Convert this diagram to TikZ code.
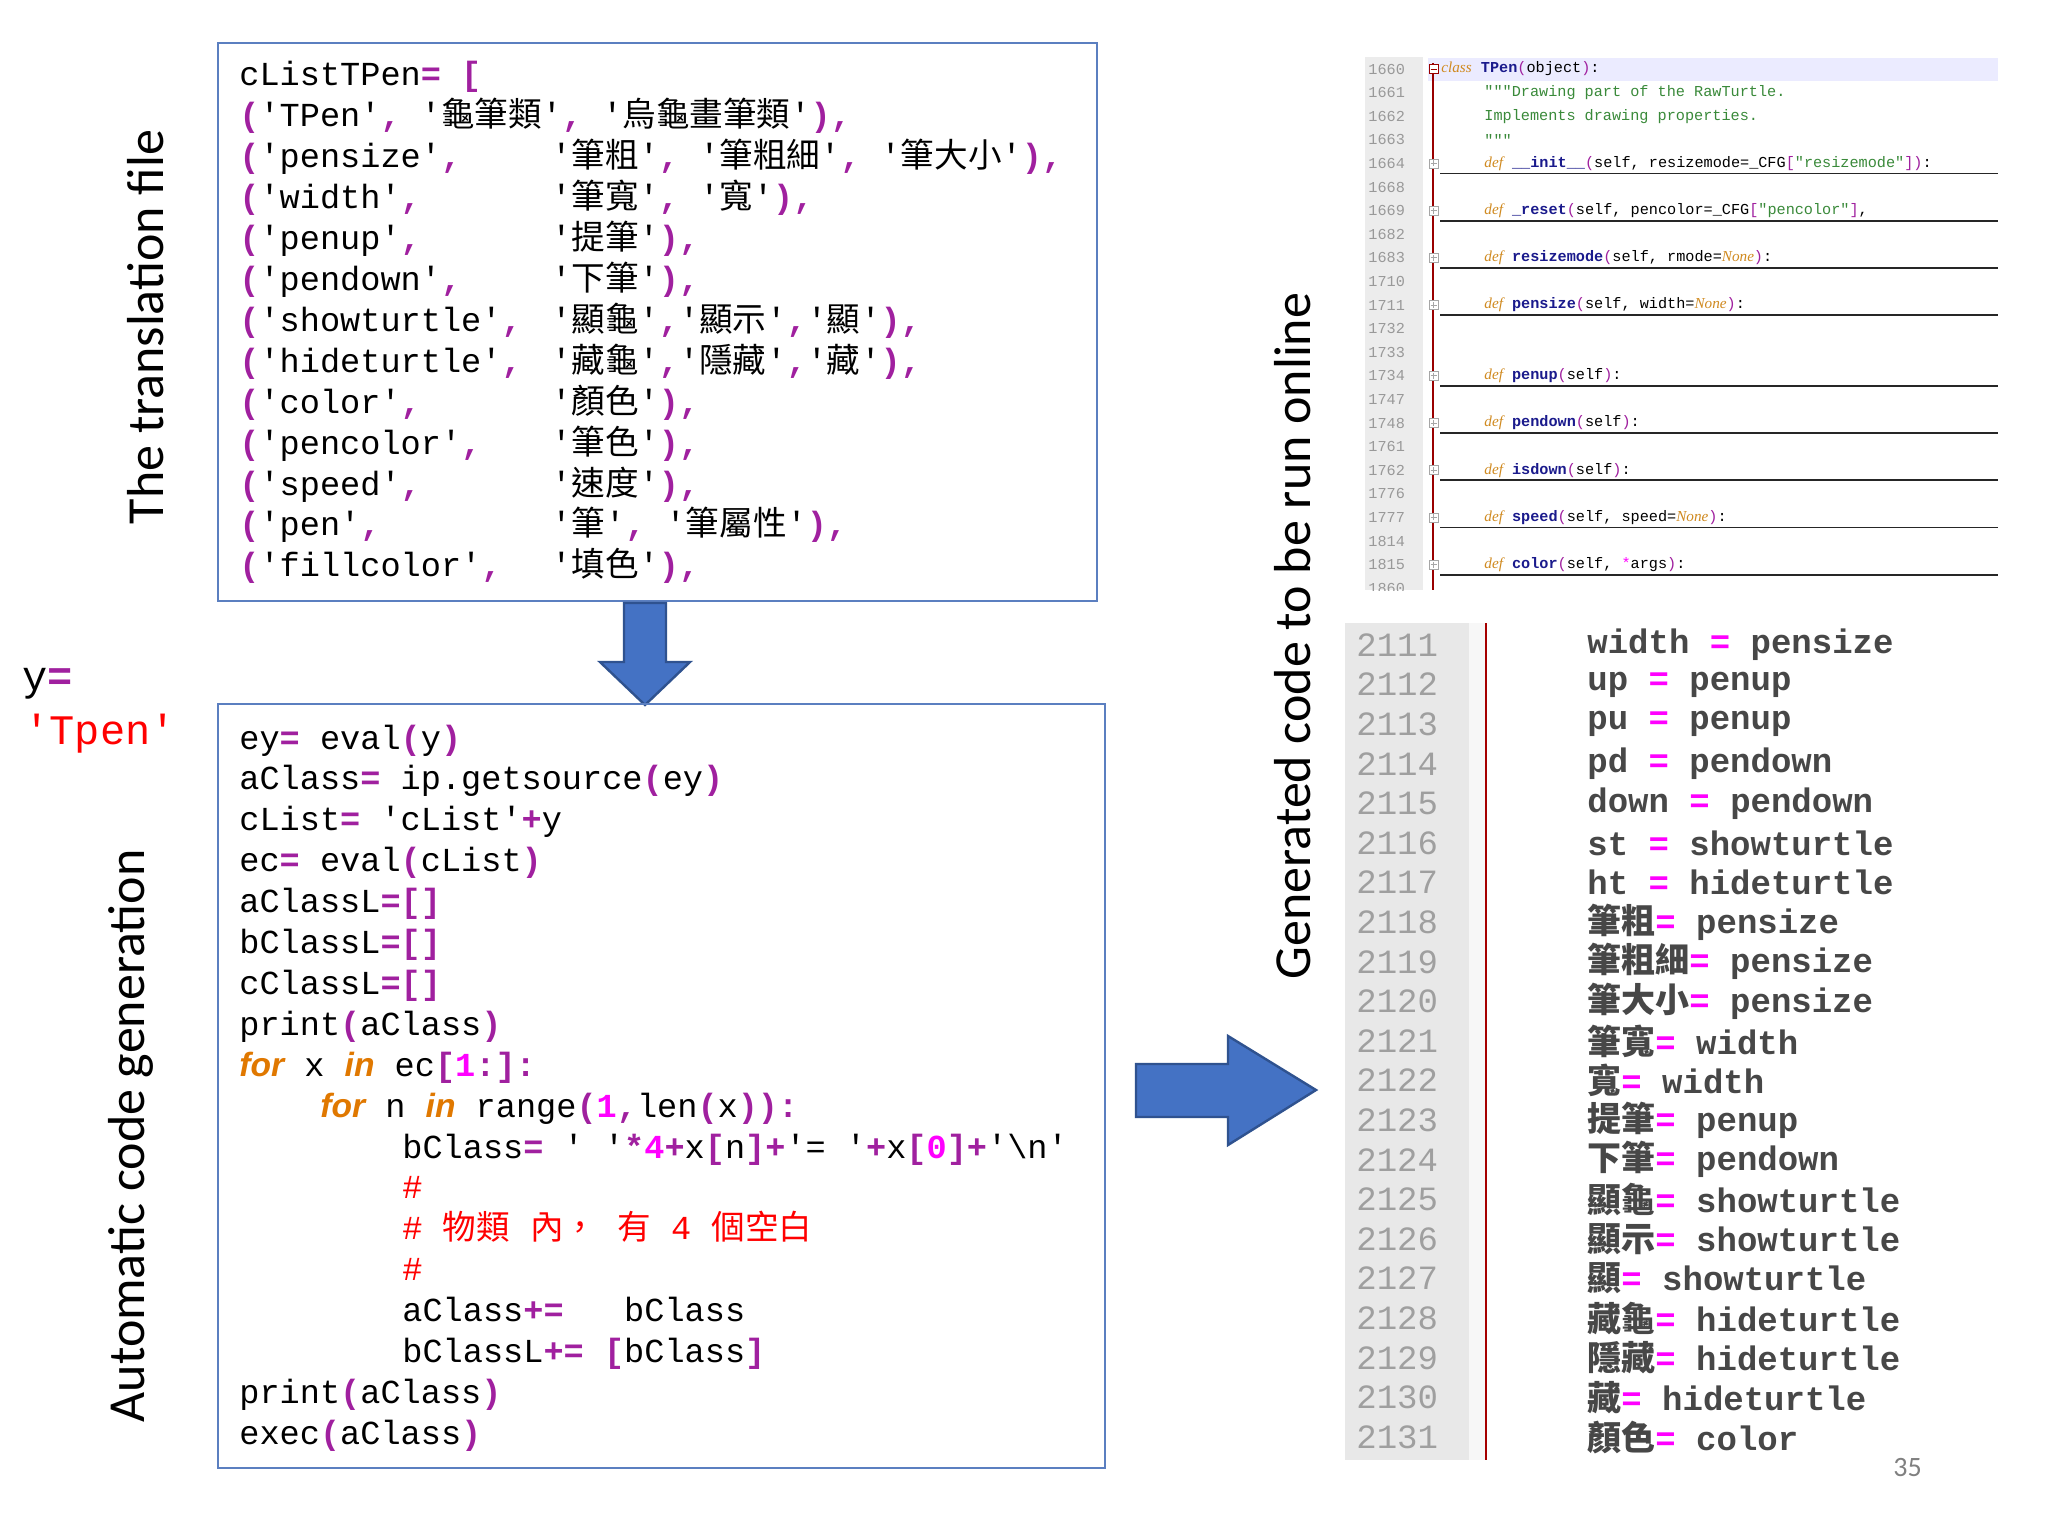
\documentclass[tikz,border=0pt]{standalone}
\usepackage{fontspec}
\setmainfont{Liberation Serif}
\newfontfamily\mono{Liberation Mono}
\newfontfamily\cjk{Noto Sans CJK TC}
\newfontfamily\kwf{Liberation Sans}
\newfontfamily\lab{Carlito}
\definecolor{pur}{HTML}{A0209F}
\definecolor{mag}{HTML}{FF00FF}
\definecolor{kwo}{HTML}{E07800}
\definecolor{bfill}{HTML}{4472C4}
\definecolor{bdraw}{HTML}{2F528F}
\definecolor{boxc}{HTML}{5B7FC0}
\definecolor{ido}{HTML}{D08A20}
\definecolor{inavy}{HTML}{1A1A8C}
\definecolor{igreen}{HTML}{3A8A3A}
\newcommand\pb[1]{\textcolor{pur}{\bfseries #1}}
\newcommand\nm[1]{\textcolor{mag}{\bfseries #1}}
\newcommand\ck[1]{{\cjk #1}}
\newcommand\kw[1]{\textcolor{kwo}{\kwf\bfseries\itshape #1}}
\newcommand\eqm{\textcolor{mag}{=}}
\newcommand\idef{\textcolor{ido}{\rmfamily\itshape def}}
\newcommand\ifn[1]{\textcolor{inavy}{\bfseries #1}}
\newcommand\ipp[1]{\textcolor{pur}{#1}}
\newcommand\inone{\textcolor{ido}{\rmfamily\itshape None}}
\begin{document}
\begin{tikzpicture}[x=0.5pt,y=-0.5pt,
  code/.style={anchor=base west,inner sep=0,font=\mono\fontsize{16.8}{20}\selectfont},
  scr/.style={anchor=west,inner sep=0,font=\mono\fontsize{7.6}{9}\selectfont},
  scrn/.style={anchor=west,inner sep=0,font=\mono\fontsize{7.6}{9}\selectfont,text=gray!80},
  big/.style={anchor=west,inner sep=0,font=\mono\bfseries\fontsize{17}{20}\selectfont,text=black!72},
  bign/.style={anchor=west,inner sep=0,font=\mono\fontsize{17}{20}\selectfont,text=gray!75},
  side/.style={inner sep=0,rotate=90,font=\lab\fontsize{26}{29}\selectfont},
  codebox/.style={draw=boxc,line width=1.3pt},
  barrow/.style={fill=bfill,draw=bdraw,line width=1.2pt,line join=miter}]
\useasboundingbox (0,0) rectangle (2048,1536);
\fill[white] (0,0) rectangle (2048,1536);

% side labels
\node[side] (l1) at (146,327) {The translation file};
\node[side] (l2) at (131,1136) {Automatic code generation};
\node[side] (l3) at (1293,636) {Generated code to be run online};
\node[anchor=base west,inner sep=0,font=\mono\fontsize{21}{24}\selectfont] (yv) at (22,690) {y\pb{=}};
\node[anchor=base west,inner sep=0,font=\mono\fontsize{21}{24}\selectfont,text=red] (tp) at (24,744) {'Tpen'};

% top box
\draw[codebox] (218,43) rectangle (1097,601);
\node[code] (t0) at (239,86) {cListTPen\pb{= [}};
\node[code] (t1) at (239,126.9) {\pb{(}'TPen'\pb{,} '\ck{龜筆類}'\pb{,} '\ck{烏龜畫筆類}'\pb{),}};
\foreach \i/\a/\b in {
 2/pensize/{'\ck{筆粗}'\pb{,} '\ck{筆粗細}'\pb{,} '\ck{筆大小}'\pb{),}},
 3/width/{'\ck{筆寬}'\pb{,} '\ck{寬}'\pb{),}},
 4/penup/{'\ck{提筆}'\pb{),}},
 5/pendown/{'\ck{下筆}'\pb{),}},
 6/showturtle/{'\ck{顯龜}'\pb{,}'\ck{顯示}'\pb{,}'\ck{顯}'\pb{),}},
 7/hideturtle/{'\ck{藏龜}'\pb{,}'\ck{隱藏}'\pb{,}'\ck{藏}'\pb{),}},
 8/color/{'\ck{顏色}'\pb{),}},
 9/pencolor/{'\ck{筆色}'\pb{),}},
 10/speed/{'\ck{速度}'\pb{),}},
 11/pen/{'\ck{筆}'\pb{,} '\ck{筆屬性}'\pb{),}},
 12/fillcolor/{'\ck{填色}'\pb{),}}}{
  \node[code] (ta\i) at (239,86+40.9*\i) {\pb{(}'\a'\pb{,}};
  \node[code] (tb\i) at (551,86+40.9*\i) {\b};
}

% down arrow
\draw[barrow] (624,603) -- (666,603) -- (666,662) -- (690,662) -- (645,705) -- (600,662) -- (624,662) -- cycle;

% bottom box
\draw[codebox] (218,704) rectangle (1105,1468);
\foreach \i/\x/\t in {
 0/239/{ey\pb{=} eval\pb{(}y\pb{)}},
 1/239/{aClass\pb{=} ip.getsource\pb{(}ey\pb{)}},
 2/239/{cList\pb{=} 'cList'\pb{+}y},
 3/239/{ec\pb{=} eval\pb{(}cList\pb{)}},
 4/239/{aClassL\pb{=[]}},
 5/239/{bClassL\pb{=[]}},
 6/239/{cClassL\pb{=[]}},
 7/239/{print\pb{(}aClass\pb{)}},
 8/239/{\kw{for} x \kw{in} ec\pb{[}\nm{1}\pb{:]:}},
 9/320/{\kw{for} n \kw{in} range\pb{(}\nm{1}\pb{,}len\pb{(}x\pb{)):}},
 10/402/{bClass\pb{=} '~'\pb{*}\nm{4}\pb{+}x\pb{[}n\pb{]+}'=~'\pb{+}x\pb{[}\nm{0}\pb{]+}'\textbackslash n'},
 11/402/{\textcolor{red}{\#}},
 12/402/{\textcolor{red}{\#~\ck{物類}~\ck{內，}~\ck{有}~4~\ck{個空白}}},
 13/402/{\textcolor{red}{\#}},
 14/402/{aClass\pb{+=}~~~bClass},
 15/402/{bClassL\pb{+=}~\pb{[}bClass\pb{]}},
 16/239/{print\pb{(}aClass\pb{)}},
 17/239/{exec\pb{(}aClass\pb{)}}}{
  \node[code] (b\i) at (\x,749+40.9*\i) {\t};
}

% right arrow
\draw[barrow] (1136,1064) -- (1228,1064) -- (1228,1036) -- (1316,1090) -- (1228,1145) -- (1228,1117) -- (1136,1117) -- cycle;

% top-right screenshot
\begin{scope}
\clip (1365,57) rectangle (1998,590);
\fill[gray!15] (1365,57) rectangle (1423,590);
\fill[blue!8] (1428,58) rectangle (1998,81);
\draw[red!60!black,line width=0.8pt] (1433,63) -- (1433,590);
\foreach \i/\n in {0/1660,1/1661,2/1662,3/1663,4/1664,5/1668,6/1669,7/1682,8/1683,9/1710,10/1711,11/1732,12/1733,13/1734,14/1747,15/1748,16/1761,17/1762,18/1776,19/1777,20/1814,21/1815,22/1860}{
  \node[scrn] (sn\i) at (1368,69+23.6*\i) {\n};
}
\foreach \i in {4,6,8,10,13,15,17,19,21}{
  \draw[gray!70,fill=white] (1429,69+23.6*\i-4.5) rectangle (1438,69+23.6*\i+4.5);
  \draw[gray!70] (1430.5,69+23.6*\i) -- (1436.5,69+23.6*\i) (1433.5,69+23.6*\i-3) -- (1433.5,69+23.6*\i+3);
  \draw[black!85,line width=0.9pt] (1440,69+23.6*\i+10) -- (1998,69+23.6*\i+10);
}
\draw[red!60!black,fill=white] (1429,64.5) rectangle (1438,73.5);
\draw[red!60!black] (1430.5,69) -- (1436.5,69);
\node[scr] (c0) at (1441,69) {\textcolor{ido}{\rmfamily\itshape class} \ifn{TPen}\ipp{(}object\ipp{)}:};
\node[scr,text=igreen] (c1) at (1484,69+23.6) {"""Drawing part of the RawTurtle.};
\node[scr,text=igreen] (c2) at (1484,69+23.6*2) {Implements drawing properties.};
\node[scr,text=igreen] (c3) at (1484,69+23.6*3) {"""};
\node[scr] (c4) at (1484,69+23.6*4) {\idef\ \ifn{\_\_init\_\_}\ipp{(}self, resizemode=\_CFG\ipp{[}\textcolor{igreen}{"resizemode"}\ipp{])}:};
\node[scr] (c6) at (1484,69+23.6*6) {\idef\ \ifn{\_reset}\ipp{(}self, pencolor=\_CFG\ipp{[}\textcolor{igreen}{"pencolor"}\ipp{]},};
\node[scr] (c8) at (1484,69+23.6*8) {\idef\ \ifn{resizemode}\ipp{(}self, rmode=\inone\ipp{)}:};
\node[scr] (c10) at (1484,69+23.6*10) {\idef\ \ifn{pensize}\ipp{(}self, width=\inone\ipp{)}:};
\node[scr] (c13) at (1484,69+23.6*13) {\idef\ \ifn{penup}\ipp{(}self\ipp{)}:};
\node[scr] (c15) at (1484,69+23.6*15) {\idef\ \ifn{pendown}\ipp{(}self\ipp{)}:};
\node[scr] (c17) at (1484,69+23.6*17) {\idef\ \ifn{isdown}\ipp{(}self\ipp{)}:};
\node[scr] (c19) at (1484,69+23.6*19) {\idef\ \ifn{speed}\ipp{(}self, speed=\inone\ipp{)}:};
\node[scr] (c21) at (1484,69+23.6*21) {\idef\ \ifn{color}\ipp{(}self, \textcolor{mag}{*}args\ipp{)}:};
\end{scope}

% bottom-right screenshot
\fill[gray!18] (1345,623) rectangle (1469,1460);
\fill[gray!6] (1469,623) rectangle (1486,1460);
\draw[red!65!black,line width=1.2pt] (1486,623) -- (1486,1460);
\foreach \i/\n/\a/\b in {
 0/2111/{width \eqm}/pensize, 1/2112/{up \eqm}/penup, 2/2113/{pu \eqm}/penup,
 3/2114/{pd \eqm}/pendown, 4/2115/{down \eqm}/pendown, 5/2116/{st \eqm}/showturtle,
 6/2117/{ht \eqm}/hideturtle, 7/2118/{\ck{筆粗}\eqm}/pensize, 8/2119/{\ck{筆粗細}\eqm}/pensize,
 9/2120/{\ck{筆大小}\eqm}/pensize, 10/2121/{\ck{筆寬}\eqm}/width, 11/2122/{\ck{寬}\eqm}/width,
 12/2123/{\ck{提筆}\eqm}/penup, 13/2124/{\ck{下筆}\eqm}/pendown, 14/2125/{\ck{顯龜}\eqm}/showturtle,
 15/2126/{\ck{顯示}\eqm}/showturtle, 16/2127/{\ck{顯}\eqm}/showturtle, 17/2128/{\ck{藏龜}\eqm}/hideturtle,
 18/2129/{\ck{隱藏}\eqm}/hideturtle, 19/2130/{\ck{藏}\eqm}/hideturtle, 20/2131/{\ck{顏色}\eqm}/color}{
  \node[bign] (rn\i) at (1356,645+39.6*\i) {\n};
  \node[big] (rc\i) at (1587,645+39.6*\i) {\a\ \b};
}
\node[anchor=north west,inner sep=0,font=\lab\fontsize{14}{16}\selectfont,text=gray] (pg) at (1893,1458) {35};
\end{tikzpicture}
\end{document}
